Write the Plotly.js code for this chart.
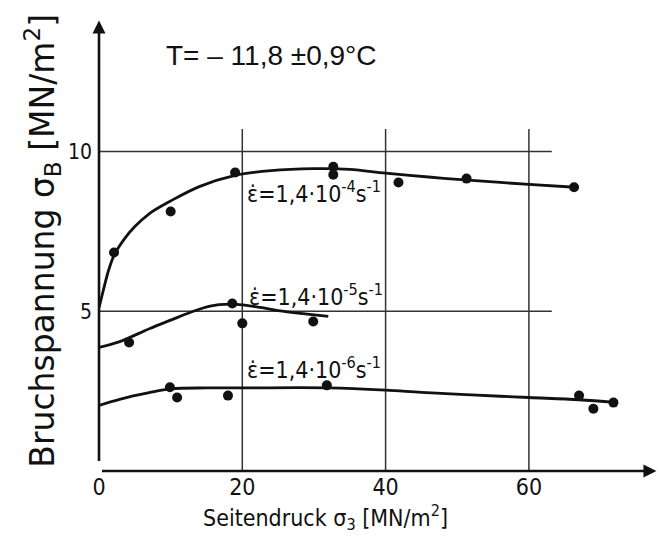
<!DOCTYPE html>
<html>
<head>
<meta charset="utf-8">
<script src="https://cdn.plot.ly/plotly-3.0.1.min.js"></script>
<style>html,body{margin:0;padding:0;background:#fff;}#chart{width:659px;height:543px;}</style>
</head>
<body>
<div id="chart"></div>
<script>
// ---- data ----
// strain rate 1.4e-4 s^-1
const s1X = [2.1, 10.0, 19.0, 32.7, 32.7, 41.8, 51.3, 66.3];
const s1Y = [6.84, 8.12, 9.34, 9.52, 9.27, 9.03, 9.15, 8.88];
const c1X = [0, 0.6, 1.3, 2.1, 3.5, 5, 7, 10, 14, 19, 24, 30, 35, 40, 46, 51.5, 60, 66.4];
const c1Y = [5.1, 5.65, 6.25, 6.75, 7.25, 7.65, 8.05, 8.45, 8.9, 9.25, 9.4, 9.46, 9.44, 9.32, 9.2, 9.1, 8.97, 8.88];
// strain rate 1.4e-5 s^-1
const s2X = [4.2, 18.6, 20.0, 29.9];
const s2Y = [4.02, 5.24, 4.62, 4.68];
const c2X = [0, 2.9, 7.1, 10, 12.7, 15.5, 18.3, 20, 22.5, 25, 28.1, 32];
const c2Y = [3.87, 4.05, 4.46, 4.72, 4.96, 5.16, 5.22, 5.2, 5.12, 5.02, 4.93, 4.84];
// strain rate 1.4e-6 s^-1
const s3X = [9.9, 10.9, 18.0, 31.8, 67.0, 69.0, 71.8];
const s3Y = [2.62, 2.30, 2.36, 2.68, 2.36, 1.95, 2.14];
const c3X = [0, 3, 7, 10, 15, 20, 32, 40, 45, 52, 60, 67, 72];
const c3Y = [2.05, 2.25, 2.45, 2.57, 2.6, 2.6, 2.6, 2.53, 2.46, 2.38, 2.3, 2.23, 2.15];

const rateLabels = [
  'ε̇=1,4·10<sup>-4</sup>s<sup>-1</sup>',
  'ε̇=1,4·10<sup>-5</sup>s<sup>-1</sup>',
  'ε̇=1,4·10<sup>-6</sup>s<sup>-1</sup>'
];
const xTickVals = [0, 20, 40, 60];
const xTickText = ['0', '20', '40', '60'];
const yTickVals = [5, 10];
const yTickText = ['5', '10'];
const gridYVals = [5, 10];
const gridXVals = [20, 40, 60];
const titleText = 'T= – 11,8 ±0,9°C';
const xTitle = 'Seitendruck σ<sub>3</sub> [MN/m<sup>2</sup>]';
const yTitle = 'Bruchspannung σ<sub>B</sub> [MN/m<sup>2</sup>]';

// ---- drawing ----
const INK = '#111';
const NARROW = '"DejaVu Sans Condensed", "Liberation Sans Narrow", sans-serif';
const WIDE = '"DejaVu Sans", sans-serif';

function curve(x, y) {
  return {x: x, y: y, mode: 'lines', type: 'scatter', hoverinfo: 'skip',
          line: {color: INK, width: 2.8, shape: 'spline', smoothing: 1.0}, showlegend: false};
}
function pts(x, y) {
  return {x: x, y: y, mode: 'markers', type: 'scatter',
          marker: {color: INK, size: 10}, showlegend: false};
}
const traces = [curve(c1X, c1Y), curve(c2X, c2Y), curve(c3X, c3Y),
                pts(s1X, s1Y), pts(s2X, s2Y), pts(s3X, s3Y)];

const X_MAX = 77.6, Y_MAX = 14.27;
const shapes = [];
gridYVals.forEach(v => shapes.push({type: 'line', xref: 'x', yref: 'y', x0: 0, x1: 63.2, y0: v, y1: v,
  line: {color: '#333', width: 1.5}, layer: 'below'}));
gridXVals.forEach(v => shapes.push({type: 'line', xref: 'x', yref: 'y', x0: v, x1: v, y0: 0, y1: 10.7,
  line: {color: '#333', width: 1.5}, layer: 'below'}));

const annotations = [
  // axes with arrow heads
  {x: 0, y: 14.1, ax: 0, ay: 0, xref: 'x', yref: 'y', axref: 'x', ayref: 'y', text: ' ',
   showarrow: true, arrowhead: 2, arrowsize: 1, arrowwidth: 2.6, arrowcolor: INK},
  {x: 77.8, y: 0, ax: 0, ay: 0, xref: 'x', yref: 'y', axref: 'x', ayref: 'y', text: ' ',
   showarrow: true, arrowhead: 2, arrowsize: 1, arrowwidth: 2.6, arrowcolor: INK},
  // temperature
  {x: 9.1, y: 13.0, xref: 'x', yref: 'y', xanchor: 'left', yanchor: 'middle', showarrow: false,
   text: titleText, font: {family: '"Liberation Sans", sans-serif', size: 28, color: INK}},
  // rate labels
  {x: 20.4, y: 8.72, xref: 'x', yref: 'y', xanchor: 'left', yanchor: 'middle', showarrow: false,
   text: rateLabels[0], font: {family: NARROW, size: 23, color: INK}},
  {x: 20.6, y: 5.52, xref: 'x', yref: 'y', xanchor: 'left', yanchor: 'middle', showarrow: false,
   text: rateLabels[1], font: {family: NARROW, size: 23, color: INK}},
  {x: 20.4, y: 3.21, xref: 'x', yref: 'y', xanchor: 'left', yanchor: 'middle', showarrow: false,
   text: rateLabels[2], font: {family: NARROW, size: 23, color: INK}},
  // axis titles
  {x: 226 / 556, y: -0.102, xref: 'paper', yref: 'paper', xanchor: 'center', yanchor: 'middle', showarrow: false,
   text: xTitle, font: {family: NARROW, size: 23, color: INK}},
  {x: -56 / 556, y: 0.505, xref: 'paper', yref: 'paper', xanchor: 'center', yanchor: 'middle', showarrow: false,
   textangle: -90, text: yTitle, font: {family: WIDE, size: 33, color: INK}}
];

const layout = {
  width: 659, height: 543,
  margin: {l: 99, r: 4, t: 15, b: 72, pad: 0},
  paper_bgcolor: '#fff', plot_bgcolor: '#fff',
  showlegend: false,
  xaxis: {range: [0, X_MAX], showgrid: false, zeroline: false, showline: false,
          tickmode: 'array', tickvals: xTickVals, ticktext: xTickText, ticks: '',
          tickfont: {family: NARROW, size: 23, color: INK}},
  yaxis: {range: [0, Y_MAX], showgrid: false, zeroline: false, showline: false,
          tickmode: 'array', tickvals: yTickVals, ticktext: yTickText, ticks: '',
          ticklabelstandoff: 6,
          tickfont: {family: NARROW, size: 21, color: INK}},
  shapes: shapes,
  annotations: annotations
};

Plotly.newPlot('chart', traces, layout, {displayModeBar: false, staticPlot: true});
</script>
</body>
</html>
